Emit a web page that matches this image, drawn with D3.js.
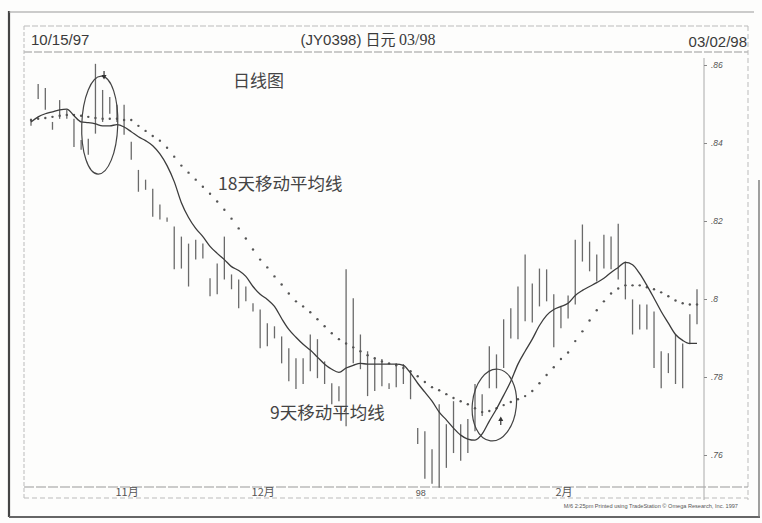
<!DOCTYPE html>
<html>
<head>
<meta charset="utf-8">
<script src="https://cdn.jsdelivr.net/npm/d3@7"></script>
<style>
	body{margin:0;background:#fff;}
	svg{display:block;background:#fdfdfc;}
</style>
</head>
<body>
<svg id="chart" width="762" height="523"></svg>
<script>
// daily bars 10/15/97 .. 03/02/98
var barHigh = [
	.8462,.8551,.8541,.8454,.8510,.8485,.8462,.8408,.8411,.8603,
	.8536,.8518,.8498,.8498,.8403,.8331,.8306,.8283,.8242,.8209,
	.8186,.8160,.8142,.8152,.8142,.8053,.8091,.8160,.8063,.8050,
	.8032,.7989,.7973,.7938,.7930,.7904,.7874,.7848,.7848,.7909,
	.7897,.7840,.7784,.7776,.8076,.8002,.7909,.7866,.7848,.7846,
	.7784,.7835,.7833,.7815,.7669,.7661,.7615,.7730,.7679,.7738,
	.7679,.7692,.7782,.7756,.7879,.7858,.7948,.7976,.8032,.8114,
	.8040,.8078,.8076,.8012,.7981,.8009,.8152,.8191,.8147,.8114,
	.8165,.8160,.8193,.8096,.7999,.7986,.7986,.7968,.7866,.7861,
	.7909,.7886,.7961,.8025
];
var barLow = [
	.8444,.8513,.8485,.8434,.8462,.8462,.8390,.8383,.8370,.8424,
	.8454,.8475,.8454,.8421,.8357,.8275,.8280,.8211,.8204,.8198,
	.8076,.8078,.8032,.8101,.8104,.8007,.8012,.8050,.8025,.7976,
	.7994,.7968,.7874,.7879,.7899,.7835,.7789,.7769,.7782,.7815,
	.7797,.7782,.7730,.7738,.7674,.7835,.7820,.7751,.7764,.7776,
	.7769,.7774,.7782,.7743,.7628,.7539,.7526,.7516,.7567,.7605,
	.7585,.7605,.7661,.7700,.7771,.7771,.7823,.7899,.7897,.7943,
	.7940,.7981,.7994,.7876,.7925,.7950,.7986,.8096,.8071,.8045,
	.8078,.8076,.8050,.7999,.7909,.7922,.7922,.7823,.7771,.7810,
	.7782,.7771,.7884,.7935
];
// 9 day moving average (solid line)
var ma9 = [
	.8454,.8467,.8475,.8480,.8485,.8487,.8470,.8454,.8452,.8449,
	.8444,.8444,.8447,.8441,.8429,.8416,.8406,.8393,.8372,.8342,
	.8301,.8247,.8209,.8181,.8160,.8135,.8117,.8101,.8083,.8073,
	.8058,.8032,.8012,.7999,.7981,.7950,.7922,.7902,.7884,.7869,
	.7851,.7833,.7820,.7812,.7823,.7830,.7835,.7833,.7833,.7833,
	.7833,.7833,.7830,.7810,.7784,.7761,.7738,.7710,.7690,.7669,
	.7651,.7641,.7638,.7654,.7687,.7718,.7753,.7789,.7833,.7866,
	.7897,.7932,.7958,.7973,.7981,.7989,.8009,.8022,.8032,.8042,
	.8053,.8068,.8081,.8094,.8088,.8065,.8035,.8002,.7968,.7938,
	.7909,.7894,.7886,.7886
];
// 18 day moving average (dotted)
var ma18 = [
	.8459,.8462,.8464,.8467,.8470,.8472,.8472,.8470,.8467,.8464,
	.8462,.8462,.8462,.8459,.8459,.8444,.8431,.8418,.8406,.8388,
	.8365,.8342,.8324,.8306,.8288,.8270,.8250,.8229,.8206,.8181,
	.8155,.8127,.8101,.8081,.8058,.8037,.8014,.7994,.7981,.7966,
	.7948,.7930,.7912,.7897,.7886,.7876,.7866,.7856,.7848,.7840,
	.7835,.7830,.7823,.7815,.7802,.7787,.7774,.7766,.7756,.7746,
	.7738,.7730,.7720,.7710,.7713,.7720,.7728,.7736,.7743,.7751,
	.7764,.7784,.7805,.7825,.7846,.7863,.7892,.7917,.7945,.7971,
	.7994,.8014,.8027,.8035,.8035,.8035,.8030,.8025,.8017,.8007,
	.7996,.7989,.7986,.7986
];
var yTicks = [0.76, 0.78, 0.80, 0.82, 0.84, 0.86];
var monthLabels = ["11月", "12月", "98", "2月"];
var monthStart = [13, 32, 54, 74];
var circleBar = [9.6, 64.7];
var circleValue = [0.8446, 0.7728];
var arrowBar = [10.2, 65.6];
var arrowValue = [0.8572, 0.7690];

var svg = d3.select("#chart");
var sans = "'Liberation Sans', Arial, sans-serif";
var cjk = "'Noto Sans CJK SC', sans-serif";
var ink = "#3a3a3a";

var x = d3.scaleLinear()
		.domain([0, barHigh.length - 1])
		.range([31, 697]);
var y = d3.scaleLinear()
		.domain([0.76, 0.86])
		.range([455, 65]);

// page frame, like the scanned printout
function rule(x1, y1, x2, y2, w, col, dash){
	svg.append("line")
		.attr("x1", x1).attr("y1", y1).attr("x2", x2).attr("y2", y2)
		.attr("stroke", col).attr("stroke-width", w)
		.attr("stroke-dasharray", dash || null);
}
rule(9, 11, 9, 517, 2.2, "#444");
rule(9, 12, 754, 12, 1, "#999");
rule(9, 517, 760, 517, 1.8, "#666");
rule(24, 26, 748, 26, 1, "#bbb", "6 2");
rule(24, 52, 748, 52, 1, "#999", "8 2");
rule(24, 26, 24, 500, 1, "#bbb", "4 2");
rule(748, 26, 748, 500, 1, "#bbb", "5 3");
rule(759, 180, 759, 517, 1.4, "#777");
rule(24, 487, 748, 487, 1, "#999", "10 2");
rule(24, 498, 748, 498, 1, "#bbb", "5 3");

// header
svg.append("text").attr("x", 31).attr("y", 45)
	.attr("font-family", sans).attr("font-size", 15).attr("fill", ink)
	.text("10/15/97");
svg.append("text").attr("x", 747).attr("y", 47)
	.attr("text-anchor", "end")
	.attr("font-family", sans).attr("font-size", 15).attr("fill", ink)
	.text("03/02/98");
var title = svg.append("text").attr("x", 368).attr("y", 45)
	.attr("text-anchor", "middle").attr("fill", ink);
title.append("tspan").attr("font-family", sans).attr("font-size", 15).text("(JY0398)  ");
title.append("tspan").attr("font-family", cjk).attr("font-size", 15).text("日元 ");
title.append("tspan").attr("font-family", "'Liberation Serif', serif").attr("font-size", 16).text("03/98");

// right price axis
var axis = svg.append("g")
	.attr("transform", "translate(704,0)")
	.call(d3.axisRight(y)
		.tickValues(yTicks)
		.tickSize(3)
		.tickPadding(4)
		.tickFormat(function(d){ return d3.format(".2~f")(d).replace(/^0/, ""); }));
axis.select(".domain").attr("stroke", "#aaa").attr("d", "M0,58V500");
axis.selectAll("line").attr("stroke", "#888");
axis.selectAll("text")
	.attr("font-family", sans).attr("font-size", 8.5)
	.attr("font-style", "italic").attr("fill", "#555");

// month labels
svg.selectAll(".month")
	.data(monthLabels)
	.enter().append("text")
	.attr("class", "month")
	.attr("x", function(d, i){ return x(monthStart[i]) + 3; })
	.attr("y", 496)
	.attr("text-anchor", "middle")
	.attr("font-family", function(d){ return d == "98" ? sans : cjk; })
	.attr("font-size", function(d){ return d == "98" ? 9 : 11; })
	.attr("fill", "#555")
	.text(function(d){ return d; });

// high-low bars
svg.selectAll(".bar")
	.data(barHigh)
	.enter().append("line")
	.attr("class", "bar")
	.attr("x1", function(d, i){ return x(i); })
	.attr("x2", function(d, i){ return x(i); })
	.attr("y1", function(d){ return y(d); })
	.attr("y2", function(d, i){ return y(barLow[i]); })
	.attr("stroke", "#6a6a6a")
	.attr("stroke-width", 1.3);

// 18 day average as dots
svg.selectAll(".dot")
	.data(ma18)
	.enter().append("circle")
	.attr("class", "dot")
	.attr("cx", function(d, i){ return x(i); })
	.attr("cy", function(d){ return y(d); })
	.attr("r", 1.2)
	.attr("fill", "#555");

// 9 day average as line
var line = d3.line()
	.x(function(d, i){ return x(i); })
	.y(function(d){ return y(d); })
	.curve(d3.curveMonotoneX);
svg.append("path")
	.datum(ma9)
	.attr("d", line)
	.attr("fill", "none")
	.attr("stroke", "#3c3c3c")
	.attr("stroke-width", 1.3);

// hand drawn circles and arrows
var rx = [18, 22], ry = [49, 36], tilt = [2, 6];
circleBar.forEach(function(b, i){
	svg.append("ellipse")
		.attr("transform", "translate(" + x(b) + "," + y(circleValue[i]) + ") rotate(" + tilt[i] + ")")
		.attr("rx", rx[i]).attr("ry", ry[i])
		.attr("fill", "none").attr("stroke", "#444").attr("stroke-width", 1.2);
});
arrowBar.forEach(function(b, i){
	var ax = x(b), ay = y(arrowValue[i]);
	var dir = i == 0 ? 1 : -1;
	svg.append("path")
		.attr("d", "M" + (ax - 2.5) + "," + (ay - dir * 1) + "L" + (ax + 2.5) + "," + (ay - dir * 1) + "L" + ax + "," + (ay + dir * 3.5) + "Z")
		.attr("fill", "#333");
	svg.append("line")
		.attr("x1", ax).attr("x2", ax)
		.attr("y1", ay - dir * 5).attr("y2", ay)
		.attr("stroke", "#333").attr("stroke-width", 1.2);
});

// notes
function note(tx, ty, size, str){
	svg.append("text").attr("x", tx).attr("y", ty)
		.attr("font-family", cjk).attr("font-size", size)
		.attr("fill", "#444")
		.text(str);
}
note(233, 87, 17, "日线图");
note(218, 190, 17.5, "18天移动平均线");
note(270, 419, 17.5, "9天移动平均线");

svg.append("text").attr("x", 738).attr("y", 508)
	.attr("text-anchor", "end")
	.attr("font-family", sans).attr("font-size", 5.6).attr("fill", "#555")
	.text("M/6  2:25pm  Printed using TradeStation © Omega Research, Inc. 1997");
</script>
</body>
</html>
